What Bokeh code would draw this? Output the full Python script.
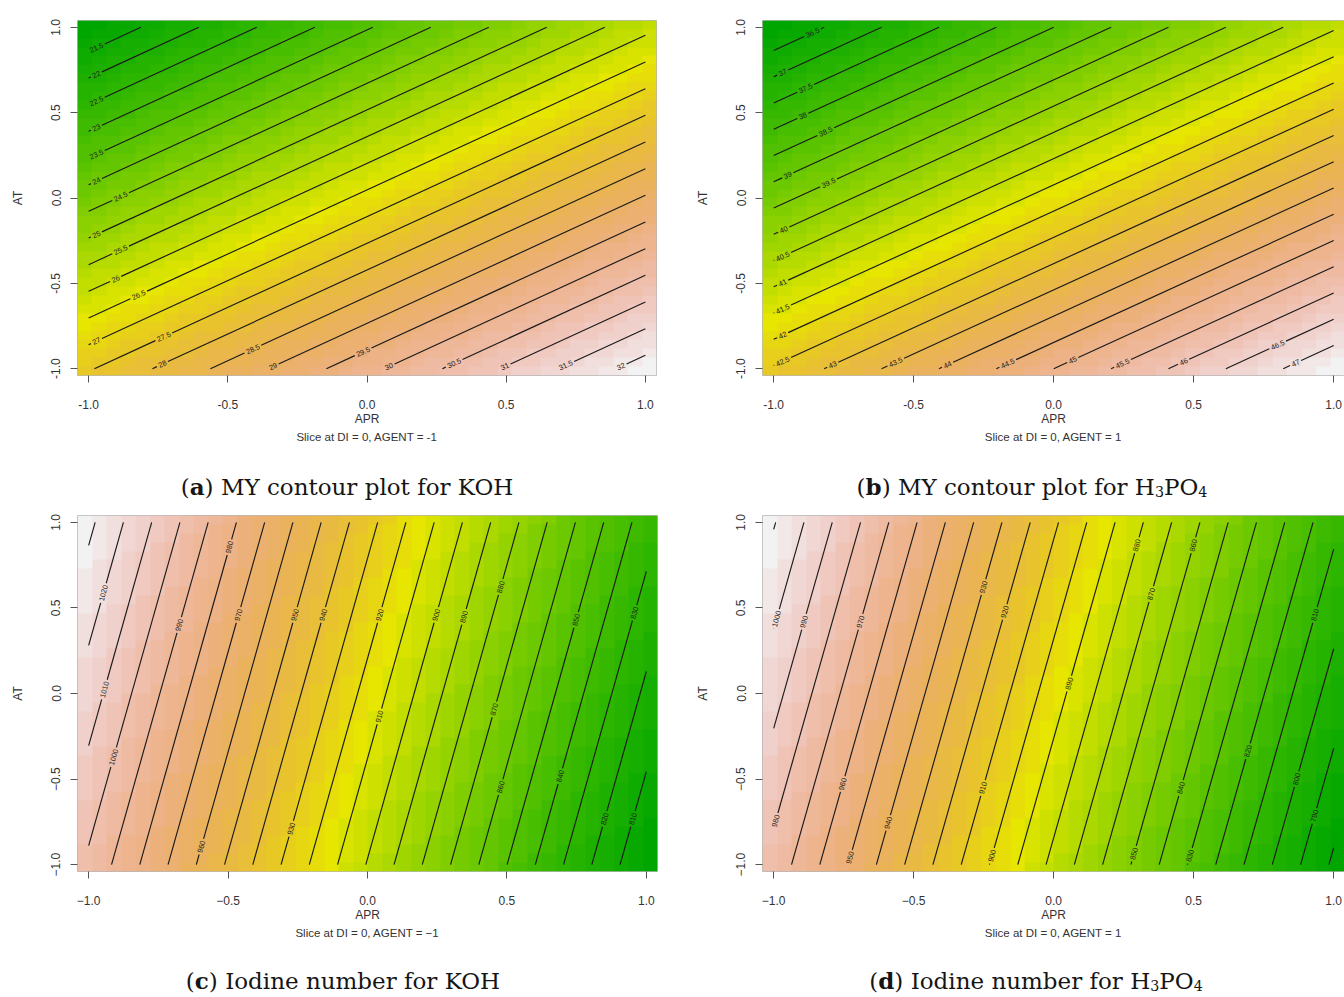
import colorsys
import math
import numpy as np
from bokeh.plotting import figure
from bokeh.models import Range1d, FixedTicker, LinearColorMapper, Div, Title
from bokeh.layouts import column, row
from bokeh.embed import file_html
from bokeh.resources import INLINE
from bokeh.core.properties import value

# ---------------- data ----------------
apr_ticks = [-1.0, -0.5, 0.0, 0.5, 1.0]
at_ticks = [-1.0, -0.5, 0.0, 0.5, 1.0]
tick_labels_ab = ["-1.0", "-0.5", "0.0", "0.5", "1.0"]
tick_labels_cd = ["\u22121.0", "\u22120.5", "0.0", "0.5", "1.0"]

# fitted first-order response surfaces: value = b0 + b1*APR + b2*AT
my_koh_coef = [26.65, 2.40, -3.20]
my_h3po4_coef = [41.75, 2.44, -3.25]
iod_koh_coef = [916.5, -98.7, 17.1]
iod_h3po4_coef = [894.5, -99.0, 17.2]

my_koh_levels = [21.5, 22, 22.5, 23, 23.5, 24, 24.5, 25, 25.5, 26, 26.5, 27,
                 27.5, 28, 28.5, 29, 29.5, 30, 30.5, 31, 31.5, 32]
my_h3po4_levels = [36.5, 37, 37.5, 38, 38.5, 39, 39.5, 40, 40.5, 41, 41.5, 42,
                   42.5, 43, 43.5, 44, 44.5, 45, 45.5, 46, 46.5, 47]
iod_koh_levels = [1030, 1020, 1010, 1000, 990, 980, 970, 960, 950, 940, 930, 920,
                  910, 900, 890, 880, 870, 860, 850, 840, 830, 820, 810]
iod_h3po4_levels = [1010, 1000, 990, 980, 970, 960, 950, 940, 930, 920, 910, 900,
                    890, 880, 870, 860, 850, 840, 830, 820, 810, 800, 790, 780]

slice_a = "Slice at DI = 0, AGENT = -1"
slice_b = "Slice at DI = 0, AGENT = 1"
slice_c = "Slice at DI = 0, AGENT = \u22121"
slice_d = "Slice at DI = 0, AGENT = 1"

SUB = '<sub style="font-size:62%;vertical-align:-0.12em;line-height:0">'
caption_a = "(<b>a</b>) MY contour plot for KOH"
caption_b = f"(<b>b</b>) MY contour plot for H{SUB}3</sub>PO{SUB}4</sub>"
caption_c = "(<b>c</b>) Iodine number for KOH"
caption_d = f"(<b>d</b>) Iodine number for H{SUB}3</sub>PO{SUB}4</sub>"

# ---------------- style: where each contour label sits ----------------
label_at_a = [-0.972, -0.972, -0.972, -0.972, -0.972, -0.972, -0.885, -0.972, -0.885,
              -0.903, -0.82, -0.972, -0.73, -0.735, -0.41, -0.338, -0.014, 0.068,
              0.313, 0.482, 0.709, 0.903]
label_at_b = [-0.861, -0.968, -0.886, -0.896, -0.814, -0.95, -0.804, -0.964, -0.968,
              -0.968, -0.968, -0.968, -0.968, -0.789, -0.564, -0.379, -0.164, 0.068,
              0.246, 0.464, 0.80, 0.864]
label_at_c = [None, 0.587, 0.023, -0.372, 0.40, 0.855, 0.459, -0.895, 0.459, 0.459,
              -0.79, 0.459, -0.134, 0.459, 0.448, 0.622, -0.093, -0.547, 0.43, -0.483,
              0.471, -0.733, -0.733]
label_at_d = [None, 0.436, 0.419, -0.744, 0.419, -0.529, -0.959, -0.756, 0.622, 0.477,
              -0.552, -0.948, 0.058, 0.866, 0.581, 0.866, -0.936, -0.552, -0.948,
              -0.337, 0.459, -0.5, -0.715, None]


def terrain_colors(n):
    k = n // 2
    h = [4 / 12, 2 / 12, 0.0]
    s = [1.0, 1.0, 0.0]
    v = [0.65, 0.9, 0.95]
    cols = []
    for i in range(k):
        f = i / (k - 1)
        cols.append((h[0] + (h[1] - h[0]) * f, s[0] + (s[1] - s[0]) * f, v[0] + (v[1] - v[0]) * f))
    m = n - k + 1
    for i in range(1, m):
        f = i / (m - 1)
        cols.append((h[1] + (h[2] - h[1]) * f, s[1] + (s[2] - s[1]) * f, v[1] + (v[2] - v[1]) * f))
    out = []
    for hh, ss, vv in cols:
        r, g, b = colorsys.hsv_to_rgb(hh, ss, vv)
        out.append("#%02x%02x%02x" % (round(r * 255), round(g * 255), round(b * 255)))
    return out


PALETTE = terrain_colors(50)
FS_LABEL = 7.4


def text_w(s, fs):
    return sum(0.556 if ch.isdigit() else 0.278 for ch in s) * fs


def make_panel(coef, levels, label_at, anchor, tick_labels, slice_text,
               width, height, bl, br, bt, bb, x_hi):
    b0, b1, b2 = coef
    x_lo, y_lo, y_hi = -1.04, -1.04, 1.04
    p = figure(width=width, height=height, x_range=Range1d(x_lo, x_hi),
               y_range=Range1d(y_lo, y_hi), output_backend="svg", toolbar_location=None,
               min_border_left=bl, min_border_right=br, min_border_top=bt,
               min_border_bottom=bb, x_axis_label="APR", y_axis_label="AT")
    p.grid.visible = False
    p.outline_line_color = "#b8b8b8"
    p.outline_line_width = 1
    fw = width - bl - br
    fh = height - bt - bb
    sx = fw / (x_hi - x_lo)
    sy = fh / (y_hi - y_lo)

    # colour image from the fitted surface
    npts = 40
    g = np.linspace(-1, 1, npts)
    X, Y = np.meshgrid(g, g)
    Z = b0 + b1 * X + b2 * Y
    hstep = 2.0 / (npts - 1)
    mapper = LinearColorMapper(palette=PALETTE, low=float(Z.min()), high=float(Z.max()))
    p.image(image=[Z], x=-1.04, y=-1.04, dw=2.08, dh=2.08, color_mapper=mapper)

    # contour lines (straight for a first-order surface) with label gaps
    xs, ys = [], []
    lx, ly, lt, la = [], [], [], []
    d = np.array([-b2, b1], dtype=float)
    if d[0] < 0:
        d = -d
    sd = np.array([d[0] * sx, d[1] * sy])
    u = sd / np.hypot(*sd)
    ang = math.atan2(u[1], u[0])
    step = np.array([u[0] / sx, u[1] / sy])  # data per screen pixel along line
    for L, at in zip(levels, label_at):
        c = L - b0
        pts = []
        for xe in (-1.0, 1.0):
            yv = (c - b1 * xe) / b2
            if -1 - 1e-9 <= yv <= 1 + 1e-9:
                pts.append((xe, yv))
        for ye in (-1.0, 1.0):
            xv = (c - b2 * ye) / b1
            if -1 - 1e-9 <= xv <= 1 + 1e-9:
                pts.append((xv, ye))
        if len(pts) < 2:
            continue
        best = None
        for i in range(len(pts)):
            for j in range(i + 1, len(pts)):
                dd = math.hypot(pts[i][0] - pts[j][0], pts[i][1] - pts[j][1])
                if best is None or dd > best[0]:
                    best = (dd, pts[i], pts[j])
        P0, P1 = np.array(best[1]), np.array(best[2])
        if np.dot(P1 - P0, d) < 0:
            P0, P1 = P1, P0
        T = float(np.dot((P1 - P0) * [sx, sy], u))
        txt = f"{L:g}"
        gap = text_w(txt, FS_LABEL) / 2 + 2.0
        if at is None or T < 2 * gap + 1:
            xs.append([P0[0], P1[0]])
            ys.append([P0[1], P1[1]])
            continue
        if anchor == "x":
            Pa = np.array([at, (c - b1 * at) / b2])
        else:
            Pa = np.array([(c - b2 * at) / b1, at])
        tc = float(np.dot((Pa - P0) * [sx, sy], u))
        tc = min(max(tc, gap - 1.0), T - gap + 1.0)
        A = P0 + step * (tc - gap)
        B = P0 + step * (tc + gap)
        C = P0 + step * tc
        if tc - gap > 0:
            xs.append([P0[0], A[0]])
            ys.append([P0[1], A[1]])
        if T - (tc + gap) > 0:
            xs.append([B[0], P1[0]])
            ys.append([B[1], P1[1]])
        lx.append(C[0]); ly.append(C[1]); lt.append(txt); la.append(ang)

    p.multi_line(xs, ys, line_color="#1a1a1a", line_width=1.15)
    p.text(lx, ly, text=lt, angle=la, text_font=value("Liberation Sans"),
           text_font_size=f"{FS_LABEL}px", text_align="center", text_baseline="middle",
           text_color="#202020")

    # axes
    for ax, ticks in ((p.xaxis[0], apr_ticks), (p.yaxis[0], at_ticks)):
        ax.ticker = FixedTicker(ticks=ticks)
        ax.major_label_overrides = dict(zip(ticks, tick_labels))
        ax.axis_line_color = None
        ax.major_tick_line_color = "#555555"
        ax.major_tick_out = 7
        ax.major_tick_in = 0
        ax.minor_tick_line_color = None
        ax.major_label_text_font = "Liberation Sans"
        ax.major_label_text_font_size = "12px"
        ax.major_label_text_color = "#333333"
        ax.axis_label_text_font = "Liberation Sans"
        ax.axis_label_text_font_size = "12px"
        ax.axis_label_text_font_style = "normal"
        ax.axis_label_text_color = "#333333"
    p.xaxis.major_label_standoff = 17
    p.xaxis.axis_label_standoff = 0
    p.yaxis.major_label_orientation = "vertical"
    p.yaxis.major_label_standoff = 10
    p.yaxis.axis_label_standoff = 24

    p.add_layout(Title(text=slice_text, align="center", text_font="Liberation Sans",
                       text_font_size="11.5px", text_font_style="normal",
                       text_color="#333333", standoff=0, offset=0), "below")
    return p


def caption(html, width, height, pad_top, pad_left, lh):
    body = (f'<div style="width:{width}px;box-sizing:border-box;padding-left:{pad_left}px;'
            f'padding-top:{pad_top}px;text-align:center;font-family:\'DejaVu Serif\',serif;'
            f'font-size:23px;line-height:{lh}px;color:#151515;white-space:nowrap;">{html}</div>')
    return Div(text=body, width=width, height=height, margin=0)


XHI_RIGHT = -1.04 + 582 / 280.0

fa = make_panel(my_koh_coef, my_koh_levels, label_at_a, "x", tick_labels_ab, slice_a,
                672, 450, 77, 16, 20, 72, 1.04)
fb = make_panel(my_h3po4_coef, my_h3po4_levels, label_at_b, "x", tick_labels_ab, slice_b,
                672, 450, 90, 0, 17, 75, XHI_RIGHT)
fc = make_panel(iod_koh_coef, iod_koh_levels, label_at_c, "y", tick_labels_cd, slice_c,
                672, 437, 77, 15, 7, 72, 1.04)
fd = make_panel(iod_h3po4_coef, iod_h3po4_levels, label_at_d, "y", tick_labels_cd, slice_d,
                672, 437, 90, 0, 5, 74, XHI_RIGHT)

da = caption(caption_a, 672, 58, 25, 22, 24)
db = caption(caption_b, 672, 58, 25, 48, 24)
dc = caption(caption_c, 672, 50, 24, 14, 24)
dd = caption(caption_d, 672, 50, 24, 56, 24)

layout = column(row(fa, fb), row(da, db), row(fc, fd), row(dc, dd))

open("out.html", "w").write(file_html(layout, INLINE))
